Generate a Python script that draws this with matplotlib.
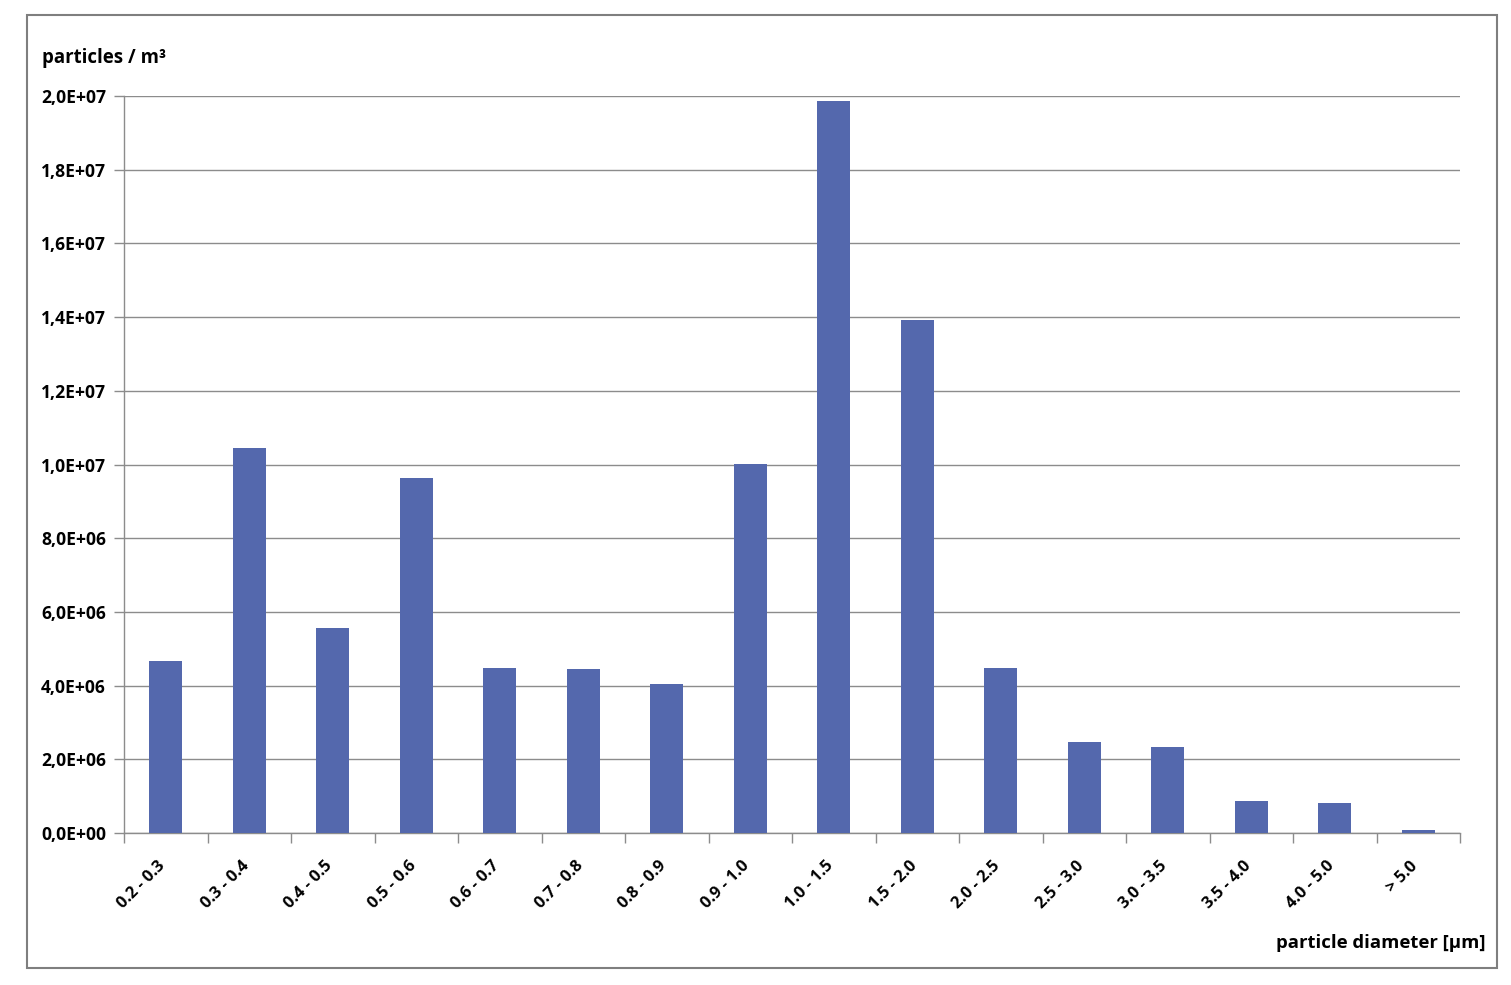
import numpy as np
import matplotlib.pyplot as plt
from matplotlib.patches import Rectangle
from matplotlib.ticker import FuncFormatter, FixedLocator

categories = ['0.2 - 0.3', '0.3 - 0.4', '0.4 - 0.5', '0.5 - 0.6', '0.6 - 0.7',
              '0.7 - 0.8', '0.8 - 0.9', '0.9 - 1.0', '1.0 - 1.5', '1.5 - 2.0',
              '2.0 - 2.5', '2.5 - 3.0', '3.0 - 3.5', '3.5 - 4.0', '4.0 - 5.0', '> 5.0']
particles = [4.67e6, 10.45e6, 5.56e6, 9.63e6, 4.48e6, 4.45e6, 4.04e6, 10.01e6,
             19.86e6, 13.92e6, 4.48e6, 2.47e6, 2.33e6, 0.87e6, 0.81e6, 0.08e6]

plt.rcParams['font.family'] = ['Open Sans', 'DejaVu Sans']

fig = plt.figure(figsize=(15.11, 9.85), dpi=100)
fig.patches.append(Rectangle((27 / 1511, 17 / 985), 1470 / 1511, 953 / 985,
                             transform=fig.transFigure, fill=False,
                             edgecolor='#7f7f7f', linewidth=1.5))

ax = fig.add_axes([124 / 1511, 152 / 985, 1336 / 1511, 737 / 985])
x = np.arange(len(categories))
ax.bar(x, particles, width=0.4, color='#5468AD', zorder=3)

ax.set_xlim(-0.5, len(categories) - 0.5)
ax.set_ylim(0, 2.0e7)
ax.set_yticks(np.arange(0, 2.01e7, 2e6))
ax.yaxis.set_major_formatter(FuncFormatter(
    lambda v, p: ('%.1E' % v).replace('.', ',')))
ax.grid(axis='y', color='#8c8c8c', linewidth=1.0, zorder=0)

for s in ['top', 'right']:
    ax.spines[s].set_visible(False)
for s in ['left', 'bottom']:
    ax.spines[s].set_color('#8c8c8c')
    ax.spines[s].set_linewidth(1.0)

ax.xaxis.set_major_locator(FixedLocator(np.arange(-0.5, len(categories), 1.0)))
ax.xaxis.set_major_formatter(FuncFormatter(lambda v, p: ''))
ax.tick_params(axis='both', which='major', color='#8c8c8c', length=7, width=1.0)
ax.tick_params(axis='y', labelsize=12.6, pad=6)
for lab in ax.get_yticklabels():
    lab.set_fontweight('bold')

for i, c in enumerate(categories):
    ax.annotate(c, xy=(i, 0), xycoords=('data', 'axes fraction'),
                xytext=(-2, -22), textcoords='offset points',
                rotation=45, ha='right', va='center', rotation_mode='anchor',
                fontsize=11.8, fontweight='bold')

fig.text(42 / 1511, 1 - 58 / 985, 'particles / m³', fontsize=13.4,
         fontweight='bold', va='center', ha='left')
fig.text(1485 / 1511, 1 - 943 / 985, 'particle diameter [µm]', fontsize=13.3,
         fontweight='bold', va='center', ha='right')

fig.savefig('out.png', dpi=100)
